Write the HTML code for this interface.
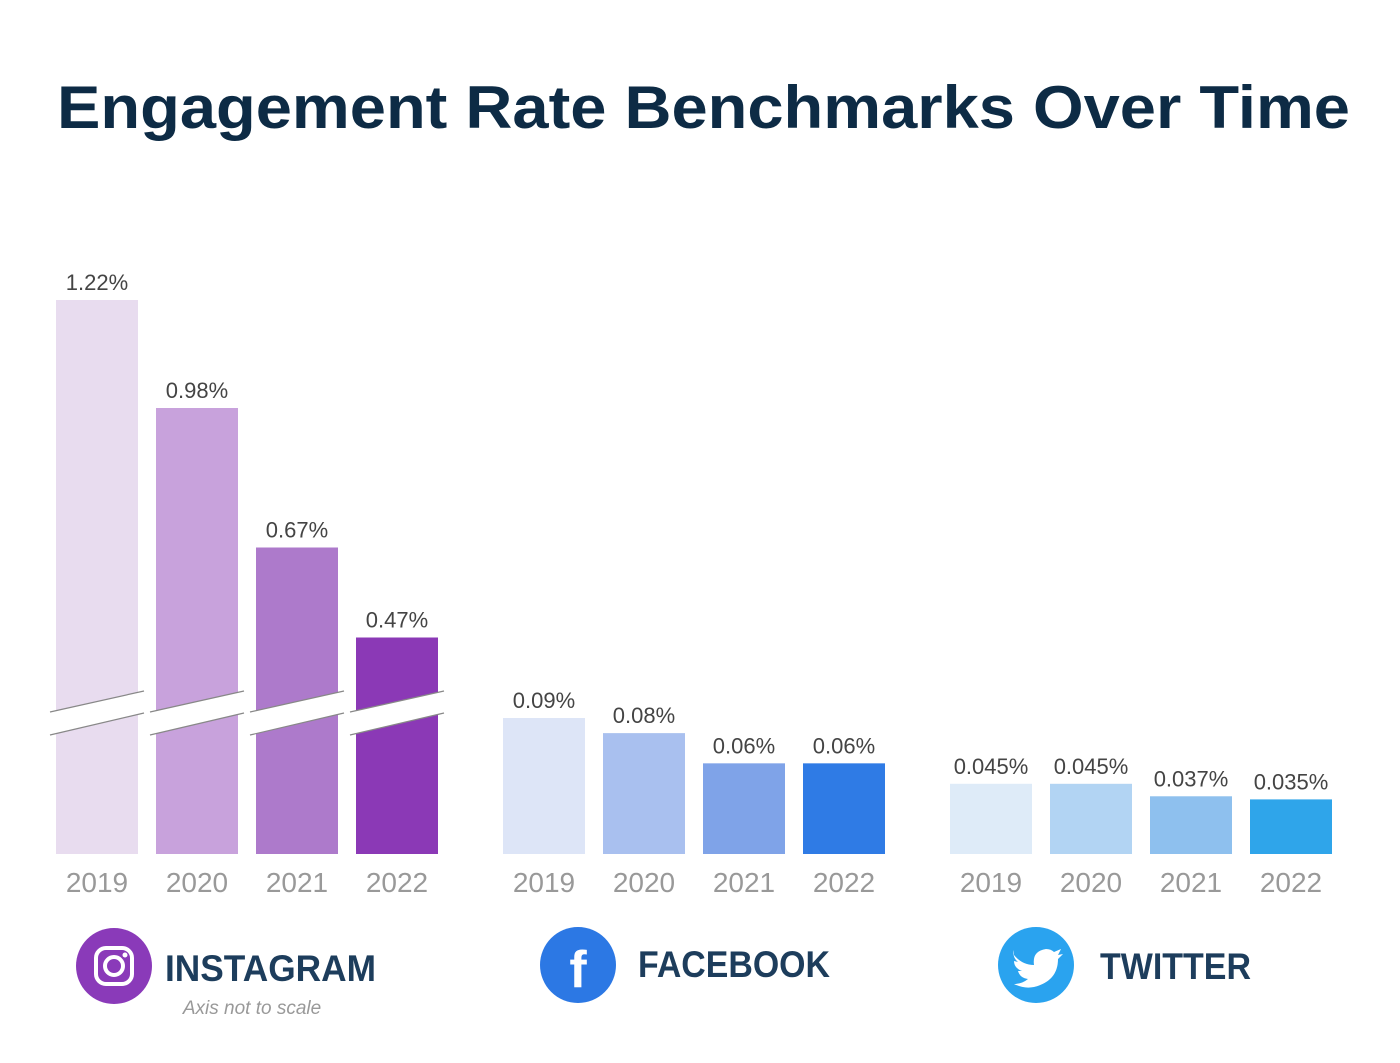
<!DOCTYPE html>
<html><head><meta charset="utf-8">
<style>
html,body{margin:0;padding:0;background:#fff;}
svg{display:block;font-family:"Liberation Sans",sans-serif;}
</style></head>
<body>
<svg id="chart" width="1400" height="1063" viewBox="0 0 1400 1063">
<text x="57" y="128" textLength="1293" lengthAdjust="spacingAndGlyphs" font-size="60" font-weight="bold" fill="#0d2b45">Engagement Rate Benchmarks Over Time</text>
<g id="bars"></g>
<g>
<circle cx="114" cy="966" r="38" fill="#8a3ab9"/>
<rect x="96" y="948" width="36" height="36" rx="10" fill="none" stroke="#fff" stroke-width="4"/>
<circle cx="114" cy="966" r="9" fill="none" stroke="#fff" stroke-width="4"/>
<circle cx="125" cy="955" r="2.5" fill="#fff"/>
<text x="165" y="981" textLength="211" lengthAdjust="spacingAndGlyphs" font-size="37" font-weight="bold" fill="#1d3d5c">INSTAGRAM</text>
<text x="252" y="1014" text-anchor="middle" font-size="19" font-style="italic" fill="#999">Axis not to scale</text>
</g>
<g>
<circle cx="578" cy="965" r="38" fill="#2c78e4"/>
<text x="578" y="987" text-anchor="middle" font-size="52" font-weight="bold" fill="#fff">f</text>
<text x="638" y="977" textLength="192" lengthAdjust="spacingAndGlyphs" font-size="37" font-weight="bold" fill="#1d3d5c">FACEBOOK</text>
</g>
<g>
<circle cx="1036" cy="965" r="38" fill="#2aa3ef"/>
<path d="M1014 955 q8 10 20 10 q-2 -14 12 -16 q5 0 8 3 l7 -3 l-3 6 l5 -1 l-5 5 q0 22 -24 28 q-10 2 -20 -3 q8 0 14 -5 q-8 -1 -10 -8 l4 0 q-8 -3 -8 -10 l4 1 q-6 -5 -4 -12z" fill="#fff"/>
<text x="1100" y="979" textLength="151" lengthAdjust="spacingAndGlyphs" font-size="37" font-weight="bold" fill="#1d3d5c">TWITTER</text>
</g>
</svg>
<script>
const years = ["2019","2020","2021","2022"];
const igValues = [1.22, 0.98, 0.67, 0.47];
const fbValues = [0.09, 0.08, 0.06, 0.06];
const twValues = [0.045, 0.045, 0.037, 0.035];
const igLabels = ["1.22%","0.98%","0.67%","0.47%"];
const fbLabels = ["0.09%","0.08%","0.06%","0.06%"];
const twLabels = ["0.045%","0.045%","0.037%","0.035%"];

const NS = "http://www.w3.org/2000/svg";
const g = document.getElementById("bars");
const base = 854, barW = 82;
function mk(tag, attrs){const e=document.createElementNS(NS,tag);for(const k in attrs)e.setAttribute(k,attrs[k]);g.appendChild(e);return e;}
const groups = [
  {name:"instagram", vals:igValues, labels:igLabels, x0:56, h:v=>5+450*v, colors:["#e8dcef","#c8a2dc","#ad7acb","#8b39b6"], brk:true},
  {name:"facebook", vals:fbValues, labels:fbLabels, x0:503, h:v=>1511*v, colors:["#dde5f7","#a9c0ef","#7fa3e8","#2f7be5"]},
  {name:"twitter", vals:twValues, labels:twLabels, x0:950, h:v=>1560*v, colors:["#deebf8","#b2d4f3","#8ec0ee","#2fa5ea"]}
];
groups.forEach(gr=>{
  gr.vals.forEach((v,i)=>{
    const x = gr.x0 + i*100, hh = gr.h(v), y = base-hh;
    const r = mk("rect",{x:x,y:y,width:barW,height:hh,fill:gr.colors[i]});
    
    
    const t = mk("text",{x:x+barW/2,y:y-10,"text-anchor":"middle","font-size":22,fill:"#444"});
    t.textContent = gr.labels[i];
    
    
    const yl = mk("text",{x:x+barW/2,y:892,"text-anchor":"middle","font-size":28,fill:"#999"});
    yl.textContent = years[i];
    
    
    if(gr.brk){
      const x1=x-6,x2=x+barW+6;
      const p = mk("polygon",{points:`${x1},${712} ${x2},${691} ${x2},${713} ${x1},${735}`,fill:"#fff"});
      
      
      mk("line",{x1:x1,y1:712,x2:x2,y2:691,stroke:"#888","stroke-width":1.2});
      mk("line",{x1:x1,y1:735,x2:x2,y2:713,stroke:"#888","stroke-width":1.2});
    }
  });
});
</script>
</body></html>
